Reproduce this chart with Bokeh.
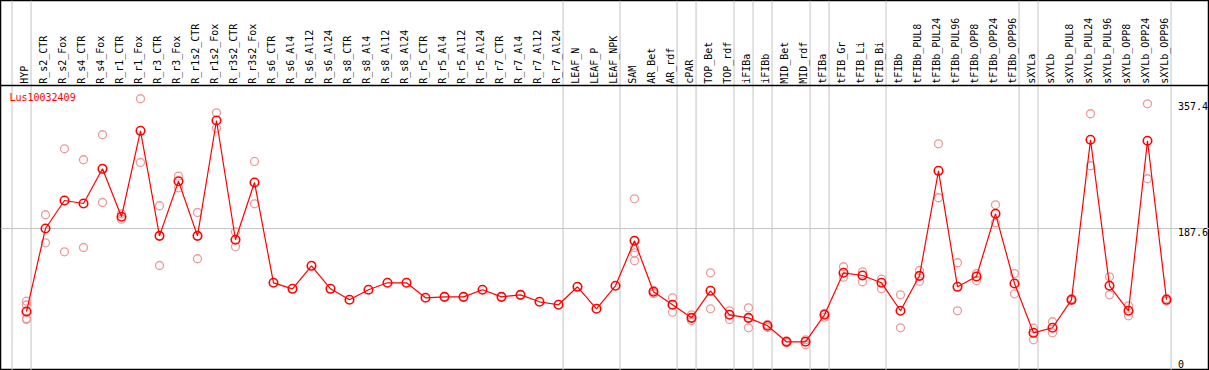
import math
from bokeh.plotting import figure
from bokeh.models import Range1d, ColumnDataSource, Span
from bokeh.embed import file_html
from bokeh.resources import INLINE
from bokeh.core.properties import value

gene = "Lus10032409"

samples = [
    "HYP", "R_s2_CTR", "R_s2_Fox", "R_s4_CTR", "R_s4_Fox", "R_r1_CTR", "R_r1_Fox",
    "R_r3_CTR", "R_r3_Fox", "R_r1s2_CTR", "R_r1s2_Fox", "R_r3s2_CTR", "R_r3s2_Fox",
    "R_s6_CTR", "R_s6_Al4", "R_s6_Al12", "R_s6_Al24", "R_s8_CTR", "R_s8_Al4",
    "R_s8_Al12", "R_s8_Al24", "R_r5_CTR", "R_r5_Al4", "R_r5_Al12", "R_r5_Al24",
    "R_r7_CTR", "R_r7_Al4", "R_r7_Al12", "R_r7_Al24", "LEAF_N", "LEAF_P", "LEAF_NPK",
    "SAM", "AR_Bet", "AR_rdf", "cPAR", "TOP_Bet", "TOP_rdf", "iFIBa", "iFIBb",
    "MID_Bet", "MID_rdf", "tFIBa", "tFIB_Gr", "tFIB_Li", "tFIB_Bi", "tFIBb",
    "tFIBb_PUL8", "tFIBb_PUL24", "tFIBb_PUL96", "tFIBb_OPP8", "tFIBb_OPP24",
    "tFIBb_OPP96", "sXYLa", "sXYLb", "sXYLb_PUL8", "sXYLb_PUL24", "sXYLb_PUL96",
    "sXYLb_OPP8", "sXYLb_OPP24", "sXYLb_OPP96",
]

means = [
    75.7, 187.6, 225.3, 221.3, 268.0, 203.4, 319.2,
    177.7, 251.3, 177.7, 333.1, 172.4, 249.6,
    114.4, 106.3, 137.3, 106.3, 91.5, 105.0,
    114.4, 114.4, 94.2, 95.5, 95.5, 105.0,
    95.5, 98.2, 88.8, 84.8, 109.0, 79.4, 110.4,
    171.0, 102.3, 84.8, 67.2, 103.6, 71.3, 67.2, 56.5,
    34.9, 34.9, 71.3, 127.9, 124.2, 114.4, 76.7,
    123.8, 265.3, 109.0, 122.9, 207.4,
    113.5, 47.0, 53.8, 91.5, 307.1, 110.4,
    76.7, 305.8, 91.5,
]

replicates = [
    [89.6, 84.5, 66.3, 64.9], [206.1, 168.3], [295.0, 156.2], [280.2, 162.0],
    [313.9, 222.6], [207.4, 200.1], [362.4, 276.5],
    [218.2, 137.7], [258.1, 242.4], [209.1, 146.8], [343.5, 322.7],
    [183.1, 162.9], [277.9, 220.9],
    [], [], [], [], [], [], [], [], [], [], [], [], [], [], [], [], [], [], [],
    [227.6, 162.0, 154.6, 144.1], [104.0, 100.0], [94.2, 74.8], [71.3, 63.6],
    [127.9, 79.4], [76.7, 65.0], [80.7, 53.8], [58.2, 54.2],
    [36.0, 33.8], [37.6, 30.9], [73.4, 68.1], [136.0, 122.0], [129.2, 115.8],
    [119.3, 106.3], [98.2, 53.8],
    [131.0, 116.6], [301.7, 229.0], [141.4, 76.7], [126.9, 117.5], [219.5, 195.3],
    [126.9, 99.6], [53.2, 37.6], [61.9, 47.0], [92.9, 90.6], [342.2, 272.1],
    [122.5, 98.2], [83.4, 69.9], [355.6, 254.6], [93.3, 89.8],
]

group_breaks = [-1, 0, 28, 31, 34, 35, 37, 38, 39, 41, 42, 45, 52, 53, 60]
tick_values = [357.4, 187.6, 0]
tick_labels = ["357.4", "187.6", "0"]
grid_value = 187.6

# layout (not data)
Y_BOTTOM = -3.77
Y_TOP = 494.8
HEADER_Y = 380.2
LABEL_Y = 382.5
GENE_Y = 364.1
X_LEFT = -1.368
X_RIGHT = 62.263
BREAK_OFFSET = 0.24

FONT = value("DejaVu Sans Mono")

p = figure(width=1209, height=370, output_backend="svg", toolbar_location=None,
           x_range=Range1d(X_LEFT, X_RIGHT), y_range=Range1d(Y_BOTTOM, Y_TOP),
           x_axis_location=None, y_axis_location=None, min_border=0,
           background_fill_color="white", border_fill_color="white")
p.grid.visible = False
p.outline_line_color = "black"
p.outline_line_width = 1.5

# group separators
for b in group_breaks:
    p.add_layout(Span(location=b + BREAK_OFFSET, dimension="height",
                      line_color="#c4c4c4", line_width=1, level="underlay"))
# mid grid line
p.add_layout(Span(location=grid_value, dimension="width",
                  line_color="#c4c4c4", line_width=1, level="underlay"))
# header separator
p.add_layout(Span(location=HEADER_Y, dimension="width",
                  line_color="black", line_width=1.5))

idx = list(range(len(samples)))

# sample labels (rotated)
lab_src = ColumnDataSource(dict(x=[i - 0.1 for i in idx], y=[LABEL_Y] * len(samples),
                                t=samples))
p.text(x="x", y="y", text="t", source=lab_src, angle=math.pi / 2,
       text_align="left", text_baseline="middle", text_font=FONT,
       text_font_size="10px", text_color="black")

# replicate points
rx, ry = [], []
for i, reps in enumerate(replicates):
    for r in reps:
        rx.append(i)
        ry.append(r)
p.scatter(rx, ry, marker="circle", size=8, fill_alpha=0,
          line_color="#ec9a9a", line_width=1.3)

# mean line + points
p.line(idx, means, line_color="red", line_width=1.2)
p.scatter(idx, means, marker="circle", size=8.5, fill_alpha=0,
          line_color="red", line_width=1.6)

# gene name
p.text(x=[X_LEFT + 0.47], y=[GENE_Y], text=[gene], text_align="left",
       text_baseline="middle", text_font=FONT, text_font_size="10px",
       text_color="red")

# value labels on right
baselines = ["top", "top", "bottom"]
for v, t, bl in zip(tick_values, tick_labels, baselines):
    p.text(x=[60.6], y=[v], text=[t], text_align="left", text_baseline=bl,
           text_font=FONT, text_font_size="10px", text_color="black")

open("out.html", "w").write(file_html(p, INLINE))
